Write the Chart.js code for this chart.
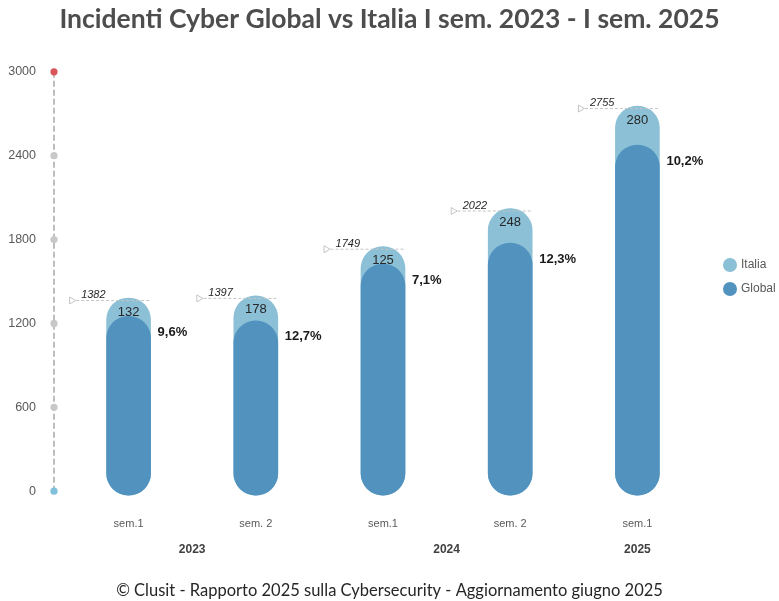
<!DOCTYPE html>
<html lang="it">
<head>
<meta charset="utf-8">
<title>Incidenti Cyber Global vs Italia</title>
<script src="https://cdn.jsdelivr.net/npm/chart.js@4.4.1/dist/chart.umd.min.js"></script>
<style>
  html, body { margin: 0; padding: 0; background: #ffffff; }
  #wrap { width: 779px; height: 601px; position: relative; }
</style>
</head>
<body>
<div id="wrap"><canvas id="chart"></canvas></div>
<script>
// Semesters, the year each belongs to, and incident counts
const categories = ['sem.1', 'sem. 2', 'sem.1', 'sem. 2', 'sem.1'];
const years = ['2023', '2023', '2024', '2024', '2025'];
const globalValues = [1250, 1219, 1624, 1774, 2475];
const italiaValues = [132, 178, 125, 248, 280];
const yTicks = [0, 600, 1200, 1800, 2400, 3000];

// Global + Italia = total incidents of the semester
const totals = globalValues.map((g, i) => g + italiaValues[i]);
const italiaShare = italiaValues.map((v, i) => v / totals[i] * 100);

const COLOR_ITALIA = '#8cc0d6';
const COLOR_GLOBAL = '#5192bf';
const SANS = '"Liberation Sans", Arial, sans-serif';

// Dashed value axis with coloured dots at each tick
const axisLinePlugin = {
  id: 'axisLine',
  afterDraw(chart) {
    const { ctx, chartArea } = chart;
    const y = chart.scales.y;
    const x = chartArea.left - 11;
    ctx.save();
    ctx.strokeStyle = '#a9a9a9';
    ctx.lineWidth = 1.5;
    ctx.setLineDash([6, 3]);
    ctx.beginPath();
    ctx.moveTo(x, y.getPixelForValue(yTicks[yTicks.length - 1]));
    ctx.lineTo(x, y.getPixelForValue(yTicks[0]));
    ctx.stroke();
    ctx.setLineDash([]);
    yTicks.forEach((t, i) => {
      let c = '#c8c8c8';
      if (i === 0) c = '#7fc0dc';
      if (i === yTicks.length - 1) c = '#d9575b';
      ctx.fillStyle = c;
      ctx.beginPath();
      ctx.arc(x, y.getPixelForValue(t), 3.6, 0, Math.PI * 2);
      ctx.fill();
    });
    ctx.restore();
  }
};

// Value labels: Italia count in the cap, share beside the bar, total on a leader line
const labelsPlugin = {
  id: 'barLabels',
  afterDatasetsDraw(chart) {
    const { ctx } = chart;
    const xs = chart.scales.x, ys = chart.scales.y;
    const metaGlobal = chart.getDatasetMeta(1);
    ctx.save();
    categories.forEach((_, i) => {
      const bar = metaGlobal.data[i];
      const half = bar.width / 2;
      const cx = xs.getPixelForValue(i);
      const yTot = ys.getPixelForValue(totals[i]);
      const yGlob = ys.getPixelForValue(globalValues[i]);

      // Italia count
      ctx.fillStyle = '#262626';
      ctx.font = '13px ' + SANS;
      ctx.textAlign = 'center';
      ctx.textBaseline = 'middle';
      ctx.fillText(String(italiaValues[i]), cx, yTot + 14);

      // Italia share of the total
      ctx.font = 'bold 13px ' + SANS;
      ctx.textAlign = 'left';
      ctx.fillStyle = '#1a1a1a';
      ctx.fillText(italiaShare[i].toFixed(1).replace('.', ',') + '%', cx + half + 7, yGlob + 16);

      // Total with leader line and marker
      const lineY = yTot + 2;
      ctx.font = 'italic 11px ' + SANS;
      ctx.textAlign = 'right';
      ctx.textBaseline = 'alphabetic';
      ctx.fillStyle = '#262626';
      const txtRight = cx - half - 1;
      ctx.fillText(String(totals[i]), txtRight, lineY - 2);
      const tw = ctx.measureText(String(totals[i])).width;
      const triX = txtRight - tw - 12;
      ctx.strokeStyle = '#c4c4c4';
      ctx.lineWidth = 1;
      ctx.setLineDash([3, 2]);
      ctx.beginPath();
      ctx.moveTo(triX + 7, lineY + 0.5);
      ctx.lineTo(cx + half, lineY + 0.5);
      ctx.stroke();
      ctx.setLineDash([]);
      ctx.beginPath();
      ctx.moveTo(triX + 0.5, lineY - 3);
      ctx.lineTo(triX + 6.5, lineY + 0.5);
      ctx.lineTo(triX + 0.5, lineY + 4);
      ctx.closePath();
      ctx.stroke();
    });

    // Year labels centred under their semesters
    const groups = [];
    years.forEach((yr, i) => {
      let g = groups.find(o => o.yr === yr);
      if (!g) { g = { yr, idx: [] }; groups.push(g); }
      g.idx.push(i);
    });
    ctx.font = 'bold 12px ' + SANS;
    ctx.fillStyle = '#404040';
    ctx.textAlign = 'center';
    ctx.textBaseline = 'middle';
    groups.forEach(g => {
      const px = g.idx.reduce((s, k) => s + xs.getPixelForValue(k), 0) / g.idx.length;
      ctx.fillText(g.yr, px, chart.chartArea.bottom + 58);
    });
    ctx.restore();
  }
};

// Legend on the right with round markers
const legendPlugin = {
  id: 'sideLegend',
  afterDraw(chart) {
    const { ctx, chartArea } = chart;
    const items = [chart.data.datasets[0], chart.data.datasets[1]];
    const x = chartArea.right + 29;
    const y0 = 265;
    ctx.save();
    ctx.font = '12px ' + SANS;
    ctx.textAlign = 'left';
    ctx.textBaseline = 'middle';
    items.forEach((ds, k) => {
      const y = y0 + k * 24;
      ctx.fillStyle = ds.backgroundColor;
      ctx.beginPath();
      ctx.arc(x, y, 7, 0, Math.PI * 2);
      ctx.fill();
      ctx.fillStyle = '#595959';
      ctx.fillText(ds.label, x + 11, y);
    });
    ctx.restore();
  }
};

new Chart(document.getElementById('chart'), {
  type: 'bar',
  data: {
    labels: categories,
    datasets: [
      {
        label: 'Italia',
        data: totals,
        backgroundColor: COLOR_ITALIA,
        order: 2
      },
      {
        label: 'Global',
        data: globalValues,
        backgroundColor: COLOR_GLOBAL,
        order: 1
      }
    ]
  },
  options: {
    responsive: true,
    maintainAspectRatio: false,
    animation: false,
    layout: { padding: 0 },
    datasets: {
      bar: {
        grouped: false,
        barThickness: 44,
        borderRadius: 22,
        borderSkipped: false,
        base: -28,
        clip: false
      }
    },
    scales: {
      x: {
        grid: { display: false, drawTicks: false },
        border: { display: false },
        ticks: { color: '#595959', font: { family: SANS, size: 11 }, padding: 26 },
        afterFit(scale) { scale.height = 89; }
      },
      y: {
        min: 0,
        max: 3000,
        grid: { display: false, drawTicks: false },
        border: { display: false },
        ticks: {
          stepSize: 600,
          color: '#595959',
          font: { family: SANS, size: 12.5 },
          padding: 29,
          callback: (v) => String(v)
        },
        afterFit(scale) { scale.width = 65; }
      },
      // empty right-hand band that holds the legend
      legendBand: {
        type: 'linear',
        position: 'right',
        grid: { display: false, drawTicks: false },
        border: { display: false },
        ticks: { display: false },
        afterFit(scale) { scale.width = 78; }
      }
    },
    plugins: {
      legend: { display: false },
      tooltip: { enabled: false },
      title: {
        display: true,
        text: 'Incidenti Cyber Global vs Italia I sem. 2023 - I sem. 2025',
        color: '#4d4d4d',
        font: { family: 'Lato', size: 26.5, weight: 'bold' },
        padding: { top: 4, bottom: 36 }
      },
      subtitle: {
        display: true,
        position: 'bottom',
        text: '© Clusit - Rapporto 2025 sulla Cybersecurity - Aggiornamento giugno 2025',
        color: '#262626',
        font: { family: 'Lato', size: 16.5 },
        padding: { top: 1, bottom: 0 }
      }
    }
  },
  plugins: [axisLinePlugin, labelsPlugin, legendPlugin]
});
</script>
</body>
</html>
